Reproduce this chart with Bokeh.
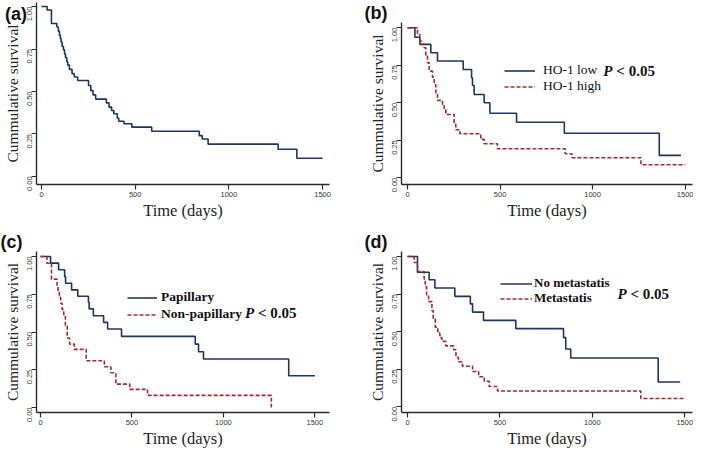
import math
from bokeh.plotting import figure
from bokeh.layouts import column, row
from bokeh.models import (Range1d, FixedTicker, PrintfTickFormatter, Label, Legend, LegendItem,
                          Title, Div)
from bokeh.embed import file_html
from bokeh.resources import INLINE

# ---------------- data ----------------
x_ticks = [0, 500, 1000, 1500]
y_ticks = [0.0, 0.25, 0.5, 0.75, 1.0]

# (a) all patients
a_time = [0, 30, 53, 82, 90, 96, 101, 105, 110, 117, 123, 128, 135, 140, 149, 163, 175, 193,
          251, 263, 275, 289, 346, 360, 374, 386, 404, 412, 440, 482, 588, 842, 858, 889,
          1263, 1363, 1500]
a_surv = [1.0, 0.98, 0.90, 0.88, 0.855, 0.83, 0.81, 0.79, 0.765, 0.745, 0.72, 0.70, 0.675,
          0.655, 0.63, 0.605, 0.585, 0.565, 0.535, 0.505, 0.48, 0.455, 0.433, 0.408, 0.388,
          0.369, 0.344, 0.325, 0.31, 0.29, 0.266, 0.24, 0.22, 0.19, 0.16, 0.107, 0.107]

# (b) HO-1 low / high
b_low_time = [0, 40, 67, 126, 162, 301, 346, 351, 360, 414, 445, 589, 847, 1360, 1477]
b_low_surv = [1.0, 0.937, 0.889, 0.833, 0.778, 0.722, 0.667, 0.615, 0.555, 0.50, 0.43,
              0.37, 0.297, 0.149, 0.149]
b_high_time = [0, 54, 66, 75, 90, 99, 108, 117, 135, 144, 153, 162, 189, 198, 207, 252, 261,
               283, 396, 414, 486, 852, 888, 1261, 1500]
b_high_surv = [1.0, 0.955, 0.911, 0.889, 0.867, 0.811, 0.767, 0.711, 0.67, 0.622, 0.567,
               0.516, 0.489, 0.456, 0.422, 0.356, 0.32, 0.293, 0.256, 0.227, 0.193, 0.16,
               0.133, 0.087, 0.087]

# (c) Papillary / Non-papillary
c_pap_time = [0, 55, 99, 132, 137, 170, 204, 262, 266, 289, 345, 367, 443, 846, 864, 891,
              1357, 1500]
c_pap_surv = [1.0, 0.956, 0.912, 0.867, 0.823, 0.779, 0.737, 0.697, 0.653, 0.608, 0.564,
              0.52, 0.471, 0.42, 0.369, 0.321, 0.21, 0.21]
c_np_time = [0, 35, 60, 90, 96, 103, 110, 118, 127, 136, 146, 159, 185, 250, 349, 385, 412,
             488, 585, 1262]
c_np_surv = [1.0, 0.955, 0.85, 0.81, 0.77, 0.73, 0.69, 0.65, 0.61, 0.54, 0.46, 0.42, 0.385,
             0.31, 0.27, 0.23, 0.155, 0.12, 0.08, 0.0]

# (d) No metastatis / Metastatis
d_nm_time = [0, 54, 117, 148, 256, 340, 352, 411, 586, 844, 856, 883, 1356, 1475]
d_nm_surv = [1.0, 0.895, 0.845, 0.79, 0.735, 0.685, 0.63, 0.575, 0.52, 0.46, 0.385, 0.325,
             0.165, 0.165]
d_m_time = [0, 36, 54, 90, 96, 103, 114, 132, 139, 150, 164, 175, 186, 207, 250, 262, 275,
            297, 352, 385, 415, 442, 487, 1262, 1500]
d_m_surv = [1.0, 0.96, 0.90, 0.85, 0.80, 0.745, 0.70, 0.64, 0.585, 0.53, 0.49, 0.46, 0.435,
            0.405, 0.38, 0.33, 0.30, 0.27, 0.235, 0.20, 0.17, 0.135, 0.105, 0.055, 0.055]

panel_letters = ["(a)", "(b)", "(c)", "(d)"]
legend_b = ["HO-1 low", "HO-1 high"]
legend_c = ["Papillary", "Non-papillary"]
legend_d = ["No metastatis", "Metastatis"]
p_text = ["P", "< 0.05"]

# ---------------- style ----------------
BLUE = "#1d3566"
RED = "#a32b2b"
SERIF = "Liberation Serif"
SANS = "Liberation Sans"
AX = "#2a2a2a"


def make_panel(w, h, xr, yr, left, right, top, bottom):
    p = figure(width=w, height=h, x_range=Range1d(*xr), y_range=Range1d(*yr),
               output_backend="svg", toolbar_location=None, title=None,
               min_border_left=left, min_border_right=right,
               min_border_top=top, min_border_bottom=bottom)
    p.xgrid.visible = False
    p.ygrid.visible = False
    p.outline_line_color = None
    p.background_fill_color = "white"
    p.border_fill_color = "white"
    p.xaxis.ticker = FixedTicker(ticks=x_ticks)
    p.yaxis.ticker = FixedTicker(ticks=y_ticks)
    p.yaxis.formatter = PrintfTickFormatter(format="%.2f")
    p.yaxis.major_label_orientation = math.pi / 2
    for ax in (p.xaxis[0], p.yaxis[0]):
        ax.axis_line_color = AX
        ax.axis_line_width = 1.4
        ax.major_tick_line_color = AX
        ax.major_tick_line_width = 1.2
        ax.major_tick_out = 5
        ax.major_tick_in = 0
        ax.minor_tick_line_color = None
        ax.major_label_text_font = SANS
        ax.major_label_text_font_size = "7.5px"
        ax.major_label_text_color = "#333333"
        ax.major_label_standoff = 2
        ax.axis_label_text_font = SERIF
        ax.axis_label_text_font_style = "normal"
        ax.axis_label_text_color = "#222222"
        ax.axis_label_standoff = 1
    p.xaxis.axis_label_text_font_size = "16.5px"
    p.yaxis.axis_label_text_font_size = "15.5px"
    p.xaxis.axis_label = "Time (days)"
    p.yaxis.axis_label = "Cummulative survival"
    return p


def panel_title(p, text, offset):
    p.add_layout(Title(text=text, align="left", offset=offset, standoff=0,
                       text_font=SANS, text_font_style="bold", text_font_size="18px",
                       text_color="#111111"), "above")


def p_label(p, x, y):
    p.add_layout(Label(x=x, y=y, text=p_text[0], text_font=SERIF,
                       text_font_style="bold italic", text_font_size="15px",
                       text_color="#111111", text_align="left", text_baseline="middle"))
    p.add_layout(Label(x=x, y=y, x_offset=13, text=p_text[1], text_font=SERIF,
                       text_font_style="bold", text_font_size="15px",
                       text_color="#111111", text_align="left", text_baseline="middle"))


def add_legend_item(p, r, label, loc, bold, standoff, gw, fs="13.5px"):
    leg = Legend(items=[LegendItem(label=label, renderers=[r])],
                 location=loc, orientation="vertical")
    leg.border_line_color = None
    leg.background_fill_alpha = 0
    leg.padding = 0
    leg.margin = 0
    leg.spacing = 0
    leg.glyph_width = gw
    leg.glyph_height = 15
    leg.label_height = 15
    leg.label_standoff = standoff
    leg.label_text_font = SERIF
    leg.label_text_font_size = fs
    leg.label_text_font_style = "bold" if bold else "normal"
    leg.label_text_color = "#111111"
    leg.label_text_baseline = "middle"
    p.add_layout(leg)


# (a)
xa, ya = (-26.7, 1537.0), (-0.0476, 1.0238)
pa = make_panel(347, 222, xa, ya, 36, 18, 2, 35)
pa.step(a_time, a_surv, mode="after", line_color=BLUE, line_width=1.6)

# (b)
xb, yb = (-32.4, 1539.4), (-0.045, 1.035)
pb = make_panel(346, 222, xb, yb, 54, 1, 20, 35)
rb1 = pb.step(b_low_time, b_low_surv, mode="after", line_color=BLUE, line_width=1.6)
rb2 = pb.step(b_high_time, b_high_surv, mode="after", line_color=RED, line_width=1.6,
              line_dash="4 2")
add_legend_item(pb, rb1, legend_b[0], (103, 106), False, 8, 31)
add_legend_item(pb, rb2, legend_b[1], (103, 90), False, 8, 31)
p_label(pb, 1058, 0.715)
panel_title(pb, panel_letters[1], -37)

# (c)
xc, yc = (-21.9, 1580.0), (-0.0332, 1.0332)
pc = make_panel(347, 228, xc, yc, 36, 18, 29, 33)
rc1 = pc.step(c_pap_time, c_pap_surv, mode="after", line_color=BLUE, line_width=1.6)
rc2 = pc.step(c_np_time, c_np_surv, mode="after", line_color=RED, line_width=1.6,
              line_dash="4 2")
add_legend_item(pc, rc1, legend_c[0], (91, 107), True, 4, 30)
add_legend_item(pc, rc2, legend_c[1], (91, 90), True, 4, 30)
p_label(pc, 1118, 0.625)
panel_title(pc, panel_letters[2], -36)

# (d)
xd, yd = (-32.5, 1541.7), (-0.038, 1.0333)
pd = make_panel(346, 228, xd, yd, 54, 1, 29, 33)
rd1 = pd.step(d_nm_time, d_nm_surv, mode="after", line_color=BLUE, line_width=1.6)
rd2 = pd.step(d_m_time, d_m_surv, mode="after", line_color=RED, line_width=1.6,
              line_dash="4 2")
add_legend_item(pd, rd1, legend_d[0], (99, 121), True, 2, 32, "13px")
add_legend_item(pd, rd2, legend_d[1], (99, 106), True, 2, 32, "13px")
p_label(pd, 1136, 0.75)
panel_title(pd, panel_letters[3], -37)

label_a = Div(text=panel_letters[0],
              styles={"position": "absolute", "left": "0px", "top": "0px",
                      "z-index": "10", "font-family": "Liberation Sans",
                      "font-weight": "bold", "font-size": "18px", "color": "#111111",
                      "line-height": "1"})

layout = row(column(label_a, pa, pc, spacing=0), column(pb, pd, spacing=0), spacing=0)

open("out.html", "w").write(file_html(layout, INLINE))
